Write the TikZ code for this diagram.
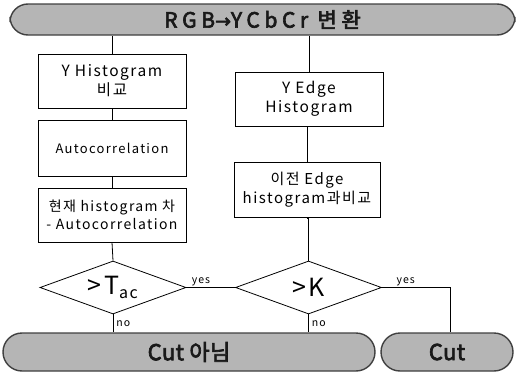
\documentclass[tikz,border=0pt]{standalone}
\usepackage{fontspec}
\setmainfont{Noto Sans CJK KR}[LetterSpace=10]
\newfontfamily\krbold{Noto Sans CJK KR}[FakeBold=3,LetterSpace=22]
\newfontfamily\krboldtight{Noto Sans CJK KR}[FakeBold=3,LetterSpace=2]
\newfontfamily\arrowfont{DejaVu Sans}[FakeBold=3]
\usetikzlibrary{shapes.geometric}
\begin{document}
\begin{tikzpicture}[x=1pt,y=-1pt,
  line width=0.8pt,
  procbox/.style={draw, rectangle, inner sep=0pt, align=center, font=\fontsize{15.5}{19}\selectfont},
  smallbox/.style={draw, rectangle, inner sep=0pt, align=center, font=\fontsize{13}{17}\selectfont},
  stadium/.style={draw=black!75, line width=1.4pt, fill=gray!58, rounded corners=18pt, inner sep=0pt, text=black!90},
  decision/.style={draw, diamond, inner sep=0pt, aspect=2.75, minimum width=146pt, minimum height=53pt, font=\fontsize{25}{27}\selectfont},
  lbl/.style={font=\fontsize{10.5}{11}\selectfont, inner sep=1pt}]
\useasboundingbox (0,0) rectangle (520,372);
% top banner
\node[stadium, minimum width=505pt, minimum height=31pt, font=\krbold\fontsize{21}{24}\selectfont] (top) at (262.5,19.5)
  {RGB{\arrowfont\fontsize{19}{22}\selectfont→}YCbCr 변환};
% left column
\node[procbox, minimum width=148pt, minimum height=54pt] (b1) at (112,81) {Y Histogram\\비교};
\node[smallbox, minimum width=148pt, minimum height=56pt] (b2) at (112,148) {Autocorrelation};
\node[smallbox, minimum width=148pt, minimum height=54pt, font=\fontsize{14}{18}\selectfont] (b3) at (112,215) {현재 histogram 차\\- Autocorrelation};
% right column
\node[procbox, minimum width=148pt, minimum height=54pt] (b4) at (309,99) {Y Edge\\Histogram};
\node[procbox, minimum width=146pt, minimum height=55pt, font=\fontsize{15}{19}\selectfont] (b5) at (307,190) {이전 Edge\\histogram과비교};
% decisions
\node[decision] (d1) at (113,287.5) {>T\textsubscript{\fontsize{16}{17}\selectfont ac}};
\node[decision] (d2) at (308.5,287.5) {>K};
% bottom banners
\node[stadium, minimum width=372pt, minimum height=38pt, rounded corners=19pt, font=\krboldtight\fontsize{22}{26}\selectfont] (nc) at (189,352) {Cut 아님};
\node[stadium, minimum width=132pt, minimum height=38pt, rounded corners=19pt, font=\krboldtight\fontsize{22}{26}\selectfont] (cut) at (447,352) {Cut};
% connectors
\draw (b1.north) -- (b1.north |- top.south);
\draw (b1) -- (b2);
\draw (b2) -- (b3);
\draw (b3.south) -- (d1.north);
\draw (b4.north) -- (b4.north |- top.south);
\draw (b4.south) -- (b4.south -| b5.north) -- (b5.north);
\draw (b5.south) -- (b5.south -| d2.north) -- (d2.north);
\draw (d1.east) -- node[lbl, pos=0.3, above] {yes} (d2.west);
\coordinate (cr) at (450,287.5);
\draw (d2.east) -- node[lbl, pos=0.35, above] {yes} (cr) -- (cr |- cut.north);
\draw (d1.south) -- node[lbl, right=2pt] {no} (d1.south |- nc.north);
\draw (d2.south) -- node[lbl, right=2pt] {no} (d2.south |- nc.north);
\end{tikzpicture}
\end{document}
